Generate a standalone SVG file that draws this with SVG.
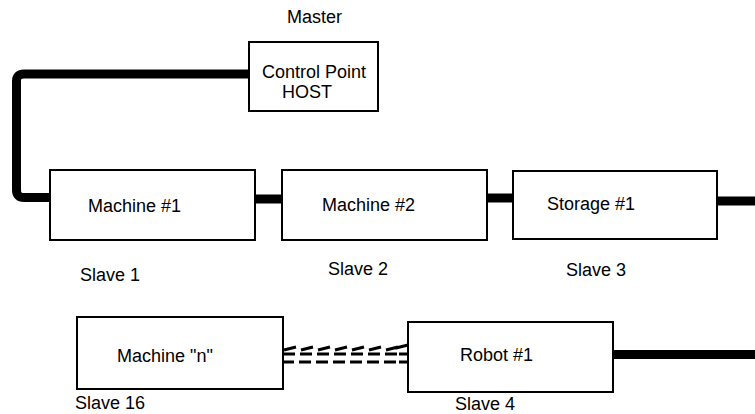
<svg xmlns="http://www.w3.org/2000/svg" width="755" height="414" viewBox="0 0 755 414">
<style>
.box{fill:#fff;stroke:#000;stroke-width:2}
.t{font-family:"Liberation Sans",Arial,sans-serif;font-size:18px;fill:#000}
.bus{fill:none;stroke:#000;stroke-width:9;stroke-linecap:round;stroke-linejoin:round}
.dash{stroke:#000;stroke-width:3}
</style>
<rect width="755" height="414" fill="#fff"/>
<g id="connectors">
<path class="bus" d="M249,74 H24 Q16.5,74 16.5,81 V190 Q16.5,197.5 24,197.5 H50"/>
<path class="bus" stroke-width="8" d="M254,199 H283"/>
<path class="bus" d="M487,198 H513" style="stroke-linecap:butt"/>
<path class="bus" d="M717,201 H760" style="stroke-linecap:butt"/>
<path class="bus" d="M614,354.5 H760"/>
<g id="wireless">
<path class="dash" d="M284,350 l12,-3 M301,350 l12,-3 M318,350 l12,-3 M335,350 l12,-3 M352,350 l12,-3 M369,350 l12,-3 M386,350 l12,-3 M396,348 l12,-3"/>
<path class="dash" d="M283,354 h12 M300,354 h12 M317,354 h12 M334,354 h12 M351,354 h12 M368,354 h12 M385,354 h12 M399,354 h9"/>
<path class="dash" d="M281,362 h13 M299,362 h12 M316,362 h12 M333,362 h12 M350,362 h12 M367,362 h12 M384,362 h12 M399,362 h9"/>
</g>
</g>
<g id="host">
<rect class="box" x="249" y="42" width="129" height="69"/>
<text class="t" x="287" y="23">Master</text>
<text class="t" x="262" y="78">Control Point</text>
<text class="t" x="282" y="98">HOST</text>
</g>
<g id="machine1">
<rect class="box" x="50" y="170" width="205" height="70"/>
<text class="t" x="88" y="212">Machine #1</text>
<text class="t" x="80" y="281">Slave 1</text>
</g>
<g id="machine2">
<rect class="box" x="282" y="170" width="205" height="70"/>
<text class="t" x="322" y="211">Machine #2</text>
<text class="t" x="328" y="275">Slave 2</text>
</g>
<g id="storage1">
<rect class="box" x="513" y="171" width="204" height="68"/>
<text class="t" x="547" y="210">Storage #1</text>
<text class="t" x="566" y="276">Slave 3</text>
</g>
<g id="machineN">
<rect class="box" x="77" y="317" width="206" height="72"/>
<text class="t" x="117" y="362">Machine "n"</text>
<text class="t" x="75" y="409">Slave 16</text>
</g>
<g id="robot1">
<rect class="box" x="408" y="322" width="205" height="70"/>
<text class="t" x="460" y="361">Robot #1</text>
<text class="t" x="455" y="410">Slave 4</text>
</g>
</svg>
